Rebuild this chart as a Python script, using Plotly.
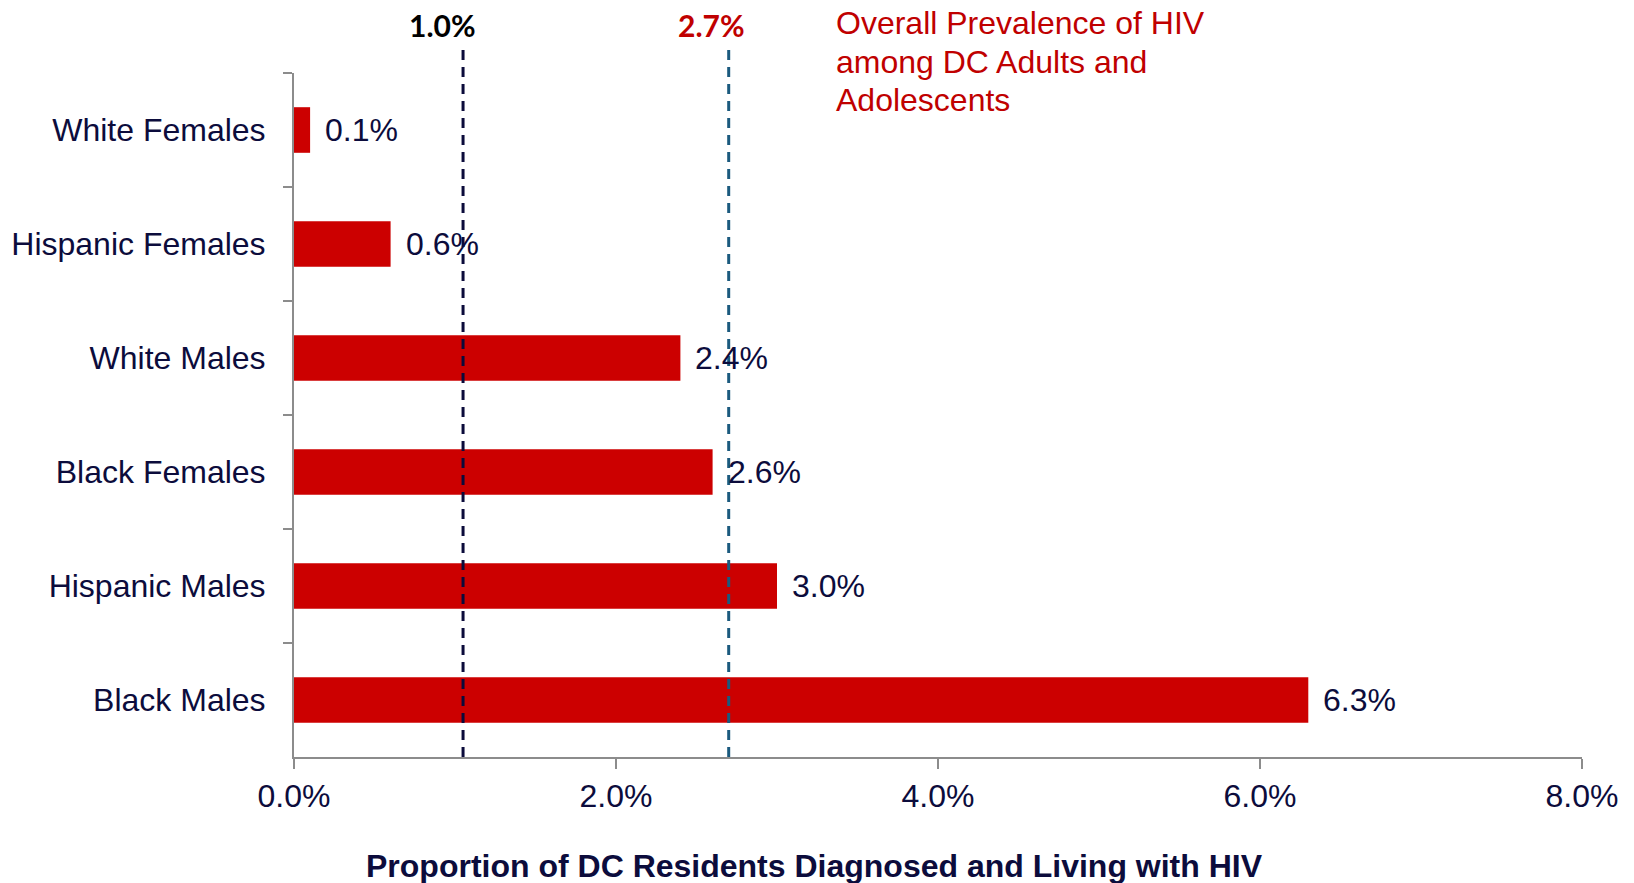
import plotly.graph_objects as go

categories = ["White Females", "Hispanic Females", "White Males", "Black Females", "Hispanic Males", "Black Males"]
values = [0.1, 0.6, 2.4, 2.6, 3.0, 6.3]
value_labels = ["0.1%", "0.6%", "2.4%", "2.6%", "3.0%", "6.3%"]
x_tickvals = [0, 2, 4, 6, 8]
x_ticktext = ["0.0%", "2.0%", "4.0%", "6.0%", "8.0%"]
ref_values = [1.05, 2.7]
ref_labels = ["1.0%", "2.7%"]
ref_line_colors = ["#0b0b3b", "#1b5a7e"]
ref_label_colors = ["#000000", "#c00000"]
ref_label_shifts = [-21, -17]
note_lines = ["Overall Prevalence of HIV", "among DC Adults and", "Adolescents"]

TXT = "#0c0c3c"
FONT = "Liberation Sans, Arial, sans-serif"

fig = go.Figure()
fig.add_trace(go.Bar(
    y=categories, x=values, orientation="h",
    marker=dict(color="#cc0000", line=dict(width=0)),
    width=0.4, hoverinfo="skip",
))

for cat, v, lab in zip(categories, values, value_labels):
    fig.add_annotation(x=v, y=cat, xref="x", yref="y", text=lab, showarrow=False,
                       xanchor="left", yanchor="middle", xshift=13,
                       font=dict(family=FONT, size=32, color=TXT))

for v, lab, lc, tc, sh in zip(ref_values, ref_labels, ref_line_colors, ref_label_colors, ref_label_shifts):
    fig.add_shape(type="line", xref="x", yref="paper", x0=v, x1=v, y0=0, y1=1.034,
                  line=dict(color=lc, width=3, dash="10px,7px"), layer="above")
    fig.add_annotation(x=v, y=1.07, xref="x", yref="paper", text="<b>" + lab + "</b>",
                       showarrow=False, xanchor="center", yanchor="middle", xshift=sh,
                       font=dict(family="Lato, Carlito, sans-serif", size=30, color=tc))

for i, line in enumerate(note_lines):
    fig.add_annotation(x=0.4196, y=1 + (73 - 23 - 38.5 * i) / 685, xref="paper", yref="paper",
                       text=line, showarrow=False, xanchor="left", yanchor="middle", align="left",
                       font=dict(family=FONT, size=32, color="#c00000"))

fig.add_annotation(x=0.4045, y=-0.159, xref="paper", yref="paper",
                   text="<b>Proportion of DC Residents Diagnosed and Living with HIV</b>",
                   showarrow=False, xanchor="center", yanchor="middle",
                   font=dict(family=FONT, size=32, color=TXT))

fig.update_layout(
    width=1626, height=875,
    margin=dict(l=286, r=52, t=65, b=126),
    paper_bgcolor="white", plot_bgcolor="white",
    showlegend=False,
    xaxis=dict(range=[0, 8], tickvals=x_tickvals, ticktext=x_ticktext, automargin=False,
               showgrid=False, zeroline=False, showline=True, linecolor="#8c8c8c", linewidth=2,
               ticks="outside", ticklen=10, tickwidth=2, tickcolor="#8c8c8c",
               ticklabelstandoff=0,
               tickfont=dict(family=FONT, size=32, color=TXT), fixedrange=True),
    yaxis=dict(autorange="reversed", showgrid=False, zeroline=False, showline=True, automargin=False,
               linecolor="#8c8c8c", linewidth=2, ticks="outside", ticklen=9, tickwidth=2,
               tickcolor="#8c8c8c", tickson="boundaries", ticklabelstandoff=20,
               tickfont=dict(family=FONT, size=32, color=TXT), fixedrange=True),
)

fig.write_html("out.html")
